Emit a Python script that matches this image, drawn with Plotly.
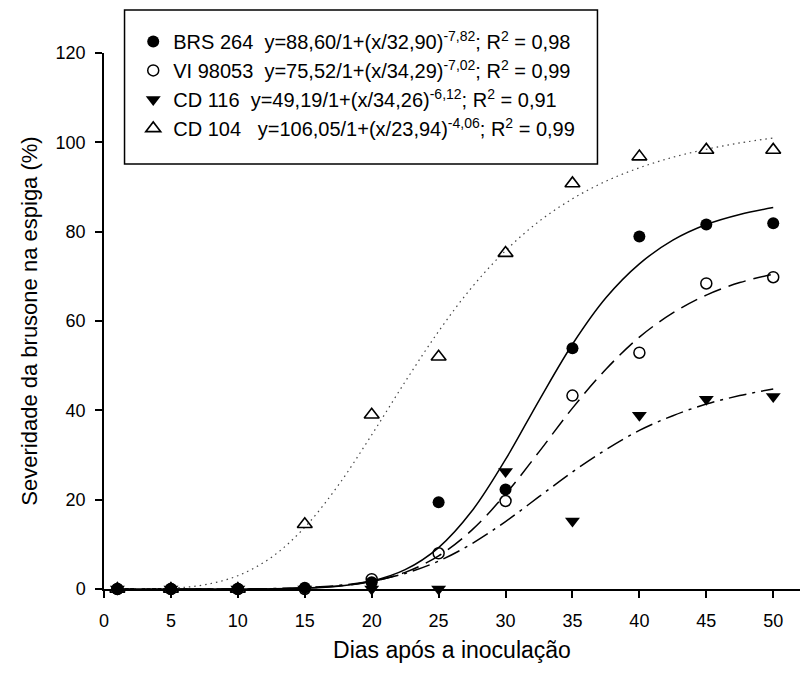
import plotly.graph_objects as go

# Observed data
dias = [1, 5, 10, 15, 20, 25, 30, 35, 40, 45, 50]
brs264 = [0, 0, 0, 0.3, 1.5, 19.4, 22.3, 53.9, 78.9, 81.6, 81.9]
vi98053 = [0, 0, 0, 0, 2.2, 8.0, 19.7, 43.3, 52.9, 68.4, 69.8]
cd116 = [0, 0, 0, 0, 0, 0, 26.3, 15.2, 38.9, 42.5, 43.1]
cd104 = [0, 0, 0, 14.5, 39.0, 52.0, 75.2, 90.8, 96.8, 98.3, 98.3]

# Fitted curves
curve_x = [1, 5, 10, 12.5, 15, 17.5, 20, 22.5, 25, 27.5, 30, 32.5, 35, 37.5, 40, 42.5, 45, 47.5, 50]
curve_brs = [0, 0, 0.01, 0.05, 0.19, 0.63, 1.77, 4.32, 9.27, 17.5, 29.0, 42.2, 54.8, 65.2, 72.8, 78.1, 81.6, 83.85, 85.4]
curve_vi = [0, 0, 0.01, 0.05, 0.23, 0.67, 1.68, 3.73, 7.41, 13.23, 21.24, 30.7, 40.5, 49.2, 56.4, 61.8, 65.8, 68.6, 70.5]
curve_cd116 = [0, 0, 0.02, 0.09, 0.31, 0.79, 1.76, 3.49, 6.25, 10.17, 15.1, 20.66, 26.2, 31.2, 35.5, 38.8, 41.4, 43.3, 44.8]
curve_cd104_x = [1, 5, 7.5, 10, 12.5, 15, 17.5, 20, 22.5, 25, 27.5, 30, 32.5, 35, 37.5, 40, 42.5, 45, 47.5, 50]
curve_cd104 = [0, 0.18, 0.94, 2.98, 7.07, 13.82, 23.2, 34.5, 46.4, 57.7, 67.6, 75.75, 82.3, 87.35, 91.3, 94.3, 96.65, 98.45, 99.86, 100.97]

labels = [
    "BRS 264  y=88,60/1+(x/32,90)<sup>-7,82</sup>; R<sup>2</sup> = 0,98",
    "VI 98053  y=75,52/1+(x/34,29)<sup>-7,02</sup>; R<sup>2</sup> = 0,99",
    "CD 116  y=49,19/1+(x/34,26)<sup>-6,12</sup>; R<sup>2</sup> = 0,91",
    "CD 104   y=106,05/1+(x/23,94)<sup>-4,06</sup>; R<sup>2</sup> = 0,99",
]

FONT = "Liberation Sans, Arial, sans-serif"

fig = go.Figure()

# curves
fig.add_trace(go.Scatter(x=curve_x, y=curve_brs, mode="lines", line=dict(color="black", width=1.5, shape="spline"), showlegend=False, hoverinfo="skip"))
fig.add_trace(go.Scatter(x=curve_x, y=curve_vi, mode="lines", line=dict(color="black", width=1.5, dash="18px,8px", shape="spline"), showlegend=False, hoverinfo="skip"))
fig.add_trace(go.Scatter(x=curve_x, y=curve_cd116, mode="lines", line=dict(color="black", width=1.5, dash="18px,6px,3px,6px", shape="spline"), showlegend=False, hoverinfo="skip"))
fig.add_trace(go.Scatter(x=curve_cd104_x, y=curve_cd104, mode="lines", line=dict(color="#444444", width=1.2, dash="1.5px,4px", shape="spline"), showlegend=False, hoverinfo="skip"))

# markers
fig.add_trace(go.Scatter(x=dias, y=cd104, mode="markers", name=labels[3], legendrank=4,
                         marker=dict(symbol="triangle-up-open", size=13, color="black", line=dict(width=1.6, color="black")), cliponaxis=False))
fig.add_trace(go.Scatter(x=dias, y=cd116, mode="markers", name=labels[2], legendrank=3,
                         marker=dict(symbol="triangle-down", size=13, color="black"), cliponaxis=False))
fig.add_trace(go.Scatter(x=dias, y=vi98053, mode="markers", name=labels[1], legendrank=2,
                         marker=dict(symbol="circle-open", size=11, color="black", line=dict(width=1.5, color="black")), cliponaxis=False))
fig.add_trace(go.Scatter(x=dias, y=brs264, mode="markers", name=labels[0], legendrank=1,
                         marker=dict(symbol="circle", size=12, color="black"), cliponaxis=False))

# legend frame
fig.add_shape(type="rect", xref="paper", yref="paper", x0=0.0295, x1=0.709, y0=0.793, y1=1.080,
              line=dict(color="black", width=1.5), fillcolor="rgba(0,0,0,0)", layer="above")

fig.update_layout(
    width=803, height=679,
    margin=dict(l=104, r=3, t=53, b=90),
    paper_bgcolor="white", plot_bgcolor="white",
    font=dict(family=FONT, size=17, color="black"),
    legend=dict(
        x=0.042, y=1.058, xanchor="left", yanchor="top",
        borderwidth=0, bgcolor="rgba(0,0,0,0)",
        font=dict(family=FONT, size=20), traceorder="normal", itemwidth=30,
    ),
    xaxis=dict(
        range=[0, 52], tickmode="array", tickvals=[0, 5, 10, 15, 20, 25, 30, 35, 40, 45, 50],
        showline=True, linecolor="black", linewidth=1.5, ticks="outside", ticklen=7, tickwidth=1.5, tickcolor="black",
        showgrid=False, zeroline=False, tickfont=dict(family=FONT, size=18), ticklabelstandoff=8,
        title=dict(text="Dias após a inoculação", font=dict(family=FONT, size=23), standoff=12),
    ),
    yaxis=dict(
        range=[0, 120], tickmode="array", tickvals=[0, 20, 40, 60, 80, 100, 120],
        showline=True, linecolor="black", linewidth=1.5, ticks="outside", ticklen=7, tickwidth=1.5, tickcolor="black",
        showgrid=False, zeroline=False, tickfont=dict(family=FONT, size=18), ticklabelstandoff=6,
        title=dict(text="Severidade da brusone na espiga (%)", font=dict(family=FONT, size=22), standoff=12),
    ),
)

fig.write_html("out.html")
